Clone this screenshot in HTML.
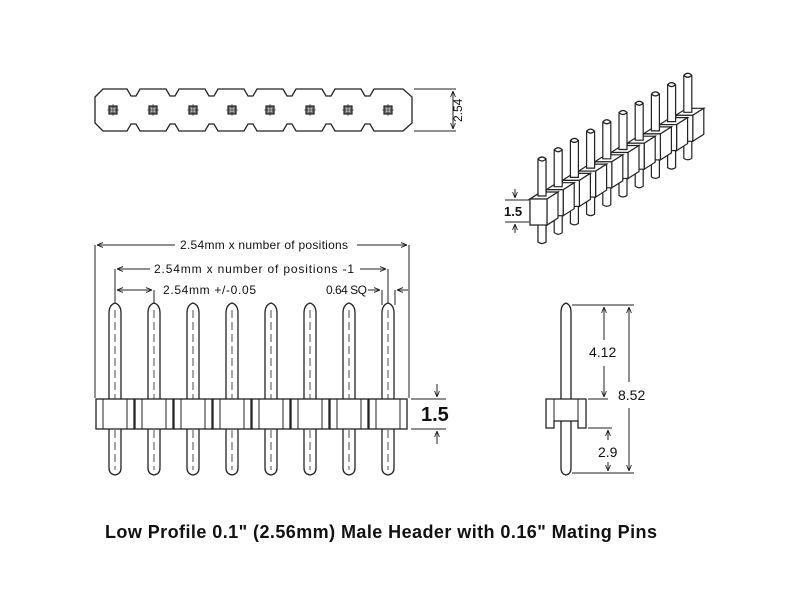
<!DOCTYPE html>
<html><head><meta charset="utf-8"><style>
html,body{margin:0;padding:0;background:#fff;}
svg{display:block;}
text{font-family:"Liberation Sans",sans-serif;fill:#111;}
</style></head><body>
<svg width="800" height="600" viewBox="0 0 800 600" xmlns="http://www.w3.org/2000/svg">
<defs>
<marker id="a" viewBox="0 0 10 10" refX="10" refY="5" markerWidth="6" markerHeight="6" orient="auto-start-reverse"><path d="M0,1 L10,5 L0,9" fill="none" stroke="#222" stroke-width="1.5"/></marker>
<g id="sq"><rect x="-4" y="-4" width="8" height="8" fill="#777" stroke="#222" stroke-width="1.2"/><rect x="-2" y="-2" width="4" height="4" fill="#bbb" stroke="none"/><path d="M-6,0 H6 M0,-6 V6" stroke="#222" stroke-width="0.6"/></g>
</defs>
<g stroke="#222" stroke-width="1.3" fill="none">
<!-- TOP VIEW -->
<path d="M95,97 L103,89 L127,89 L131,96 L136,96 L140,89 L166,89 L170,96 L175,96 L179,89 L205,89 L209,96 L214,96 L218,89 L244,89 L248,96 L253,96 L257,89 L283,89 L287,96 L292,96 L296,89 L322,89 L326,96 L331,96 L335,89 L361,89 L365,96 L370,96 L374,89 L403,89 L412,97 L412,123 L403,131 L374,131 L370,124 L365,124 L361,131 L335,131 L331,124 L326,124 L322,131 L296,131 L292,124 L287,124 L283,131 L257,131 L253,124 L248,124 L244,131 L218,131 L214,124 L209,124 L205,131 L179,131 L175,124 L170,124 L166,131 L140,131 L136,124 L131,124 L127,131 L103,131 L95,123 Z"/>
<use href="#sq" x="113" y="110"/><use href="#sq" x="153" y="110"/><use href="#sq" x="193" y="110"/><use href="#sq" x="232" y="110"/><use href="#sq" x="270" y="110"/><use href="#sq" x="310" y="110"/><use href="#sq" x="348" y="110"/><use href="#sq" x="388" y="110"/>
<path d="M414,89 H456 M414,131 H456" stroke-width="1"/>
<path d="M453,91 V129" stroke-width="1" marker-start="url(#a)" marker-end="url(#a)"/>
</g>
<text x="0" y="0" font-size="12" transform="translate(462,122) rotate(-90)" fill="#333">2.54</text>

<!-- FRONT VIEW -->
<g stroke="#222" stroke-width="1" fill="none">
<path d="M95,245 V398 M409,245 V398 M115,269 V305 M388,269 V305 M154,290 V305 M382,290 V305 M395,290 V305"/>
<path d="M97,245 H175 M357,245 H407" marker-start="url(#a)" marker-end="url(#a)"/>
<path d="M117,269 H150 M360,269 H386" marker-start="url(#a)" marker-end="url(#a)"/>
<path d="M117,290 H152" marker-start="url(#a)" marker-end="url(#a)"/>
<path d="M368,290 H380" marker-end="url(#a)"/>
<path d="M408,290 H397" marker-end="url(#a)"/>
</g>
<text x="180" y="249" font-size="12" textLength="168">2.54mm x number of positions</text>
<text x="154" y="273" font-size="12" textLength="200">2.54mm x number of positions -1</text>
<text x="163" y="294" font-size="12" textLength="93">2.54mm +/-0.05</text>
<text x="326" y="294" font-size="12" textLength="41">0.64 SQ</text>

<g stroke="#222" stroke-width="1.3" fill="#fff" id="pins">
<g id="p"><path d="M109,468 V313 Q109,305 115,303 Q121,305 121,313 V468 Q121,474 115,475 Q109,474 109,468 Z"/><path d="M115,310 V470" stroke-dasharray="8,4" stroke-width="0.8"/><rect x="96" y="399" width="38" height="30"/><path d="M103,399 V429 M127,399 V429" stroke-width="1"/></g>
<use href="#p" x="39"/><use href="#p" x="78"/><use href="#p" x="117"/><use href="#p" x="156"/><use href="#p" x="195"/><use href="#p" x="234"/><use href="#p" x="273"/>
</g>
<g stroke="#222" stroke-width="1" fill="none">
<path d="M411,399 H446 M411,429 H446"/>
<path d="M437,384 V397" marker-end="url(#a)"/>
<path d="M437,444 V431" marker-end="url(#a)"/>
</g>
<text x="421" y="421" font-size="20" font-weight="bold">1.5</text>

<!-- SIDE VIEW -->
<g stroke="#222" stroke-width="1.3" fill="#fff">
<path d="M561,468 V312 Q561,305 566,303 Q571,305 571,312 V468 Q571,474 566,475 Q561,474 561,468 Z"/>
<path d="M546,399 H586 V428 H578 V421 H554 V428 H546 Z"/>
<path d="M554,399 V421 M578,399 V421" stroke-width="1"/>
</g>
<g stroke="#222" stroke-width="1" fill="none">
<path d="M572,305 H634 M588,399 H608 M588,428 H612 M572,473 H634"/>
<path d="M604,307 V340 M604,366 V397"/>
<path d="M604,318 V307" marker-end="url(#a)"/><path d="M604,388 V397" marker-end="url(#a)"/>
<path d="M629,307 V382 M629,408 V471" />
<path d="M629,318 V307" marker-end="url(#a)"/><path d="M629,460 V471" marker-end="url(#a)"/>
<path d="M608,430 V440 M608,462 V471"/>
<path d="M608,440 V430" marker-end="url(#a)"/><path d="M608,462 V471" marker-end="url(#a)"/>
</g>
<text x="589" y="357" font-size="14" fill="#333">4.12</text>
<text x="618" y="400" font-size="14" fill="#333">8.52</text>
<text x="598" y="457" font-size="14" fill="#333">2.9</text>

<!-- ISOMETRIC VIEW -->
<g stroke="#222" stroke-width="1.2" fill="#fff">
<g id="iso">
<path d="M538,242 V220 H546 V242 Q542,245 538,242 Z"/>
<path d="M530,199 L541,192 L558,192 L547,199 Z"/>
<path d="M547,199 L558,192 L558,218 L547,225 Z"/>
<rect x="530" y="199" width="17" height="26"/>
<path d="M538,196 V159 Q542,155 546,159 V196 Z"/>
<path d="M538,159 Q542,163 546,159" fill="none"/>
</g>
</g>
<g stroke="#222" stroke-width="1.2" fill="#fff">
<use href="#iso" transform="translate(145.8,-83.7)"/>
<use href="#iso" transform="translate(129.6,-74.4)"/>
<use href="#iso" transform="translate(113.4,-65.1)"/>
<use href="#iso" transform="translate(97.2,-55.8)"/>
<use href="#iso" transform="translate(81,-46.5)"/>
<use href="#iso" transform="translate(64.8,-37.2)"/>
<use href="#iso" transform="translate(48.6,-27.9)"/>
<use href="#iso" transform="translate(32.4,-18.6)"/>
<use href="#iso" transform="translate(16.2,-9.3)"/>
<use href="#iso"/>
</g>
<g stroke="#222" stroke-width="1" fill="none">
<path d="M505,200 H529 M505,222 H529"/>
<path d="M515,189 V198" marker-end="url(#a)"/>
<path d="M515,233 V224" marker-end="url(#a)"/>
</g>
<text x="504" y="216" font-size="13" font-weight="bold">1.5</text>

<text x="105" y="538" font-size="18" font-weight="bold" textLength="552">Low Profile 0.1" (2.56mm) Male Header with 0.16" Mating Pins</text>
</svg>
</body></html>
